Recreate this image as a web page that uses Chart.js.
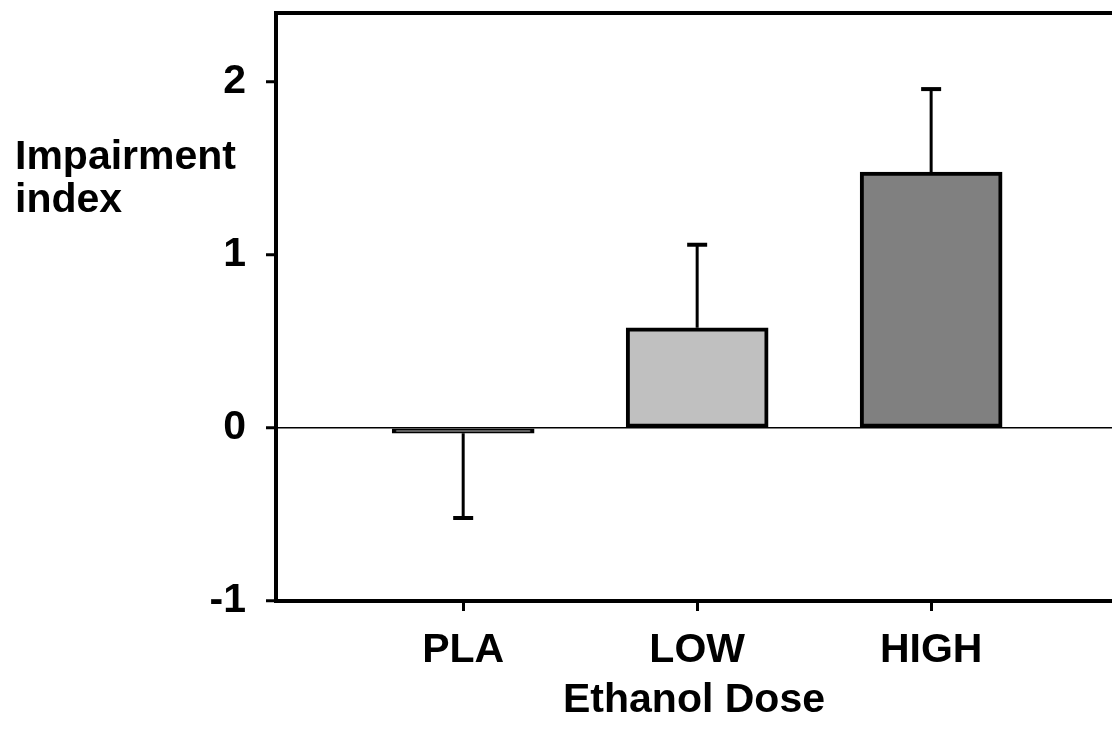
<!DOCTYPE html>
<html>
<head>
<meta charset="utf-8">
<script src="https://cdn.jsdelivr.net/npm/chart.js@4.4.1/dist/chart.umd.min.js"></script>
<style>
  html, body { margin: 0; padding: 0; background: #fff; overflow: hidden; }
  canvas { display: block; }
</style>
</head>
<body>
<canvas id="doseChart" width="1112" height="731"></canvas>
<script>
/* ---------- DATA ---------- */
const doseLabels = ["PLA", "LOW", "HIGH"];
const impairmentMeans = [-0.03, 0.58, 1.48];
const impairmentErrors = [0.49, 0.48, 0.48];
const barColors = ["#c0c0c0", "#c0c0c0", "#808080"];
const yTickValues = [-1, 0, 1, 2];

const FONT = "'Liberation Sans', Arial, sans-serif";

/* ---------- ERROR BARS ---------- */
const errorBarPlugin = {
  id: "errorBars",
  afterDatasetsDraw(chart) {
    const { ctx, scales } = chart;
    const meta = chart.getDatasetMeta(0);
    ctx.save();
    ctx.strokeStyle = "#000";
    ctx.lineCap = "butt";
    meta.data.forEach((bar, i) => {
      const mean = impairmentMeans[i];
      const dir = mean < 0 ? -1 : 1;
      const y0 = scales.y.getPixelForValue(mean);
      const y1 = scales.y.getPixelForValue(mean + dir * impairmentErrors[i]);
      ctx.lineWidth = 3;
      ctx.beginPath();
      ctx.moveTo(bar.x, y0);
      ctx.lineTo(bar.x, y1);
      ctx.stroke();
      ctx.lineWidth = 4;
      ctx.beginPath();
      ctx.moveTo(bar.x - 10, y1);
      ctx.lineTo(bar.x + 10, y1);
      ctx.stroke();
    });
    ctx.restore();
  },
};

/* ---------- Y LABEL (horizontal, left of axis) ---------- */
const yLabelPlugin = {
  id: "yLabel",
  afterDraw(chart) {
    const { ctx } = chart;
    ctx.save();
    ctx.fillStyle = "#000";
    ctx.font = "bold 41px " + FONT;
    ctx.textAlign = "left";
    ctx.textBaseline = "alphabetic";
    ctx.fillText("Impairment", 15, 169);
    ctx.fillText("index", 15, 212);
    ctx.restore();
  },
};

/* ---------- CHART ---------- */
new Chart(document.getElementById("doseChart"), {
  type: "bar",
  data: {
    datasets: [
      {
        data: impairmentMeans.map((v, i) => ({ x: i, y: v })),
        backgroundColor: barColors,
        borderColor: "#000",
        borderWidth: 4,
        borderSkipped: false,
        barThickness: 142,
      },
    ],
  },
  options: {
    responsive: false,
    animation: false,
    devicePixelRatio: 1,
    layout: { padding: { top: 13, left: 0, right: 0, bottom: 0 } },
    plugins: {
      legend: { display: false },
      tooltip: { enabled: false },
    },
    scales: {
      x: {
        type: "linear",
        position: "bottom",
        offset: false,
        min: -0.8,
        max: 2.773,
        afterBuildTicks: (scale) => {
          scale.ticks = doseLabels.map((_, i) => ({ value: i }));
        },
        afterFit: (scale) => {
          scale.height = 130;
          scale.paddingLeft = 0;
          scale.paddingRight = 0;
        },
        ticks: {
          callback: (value) => doseLabels[value] ?? "",
          color: "#000",
          font: { family: FONT, size: 41, weight: "bold" },
          padding: 15,
          maxRotation: 0,
          autoSkip: false,
        },
        grid: {
          offset: false,
          drawOnChartArea: false,
          tickColor: "#000",
          tickWidth: 3,
          tickLength: 10,
        },
        border: { color: "#000", width: 4 },
        title: {
          display: true,
          text: "Ethanol Dose",
          color: "#000",
          font: { family: FONT, size: 41, weight: "bold" },
          padding: { top: 0, bottom: 6 },
        },
      },
      x2: {
        type: "linear",
        position: "top",
        display: true,
        afterFit: (scale) => {
          scale.height = 0;
          scale.paddingLeft = 0;
          scale.paddingRight = 0;
        },
        ticks: { display: false },
        grid: { drawOnChartArea: false, drawTicks: false },
        border: { color: "#000", width: 4 },
      },
      y: {
        min: -1,
        max: 2.4,
        afterBuildTicks: (scale) => {
          scale.ticks = yTickValues.map((v) => ({ value: v }));
        },
        afterFit: (scale) => {
          scale.width = 276;
          scale.paddingTop = 0;
          scale.paddingBottom = 0;
        },
        ticks: {
          color: "#000",
          font: { family: FONT, size: 41, weight: "bold" },
          padding: 20,
        },
        grid: {
          color: (ctx) => (ctx.tick && ctx.tick.value === 0 ? "#000" : "rgba(0,0,0,0)"),
          lineWidth: 1.5,
          tickColor: "#000",
          tickWidth: 3,
          tickLength: 10,
        },
        border: { color: "#000", width: 4 },
      },
    },
  },
  plugins: [errorBarPlugin, yLabelPlugin],
});
</script>
</body>
</html>
